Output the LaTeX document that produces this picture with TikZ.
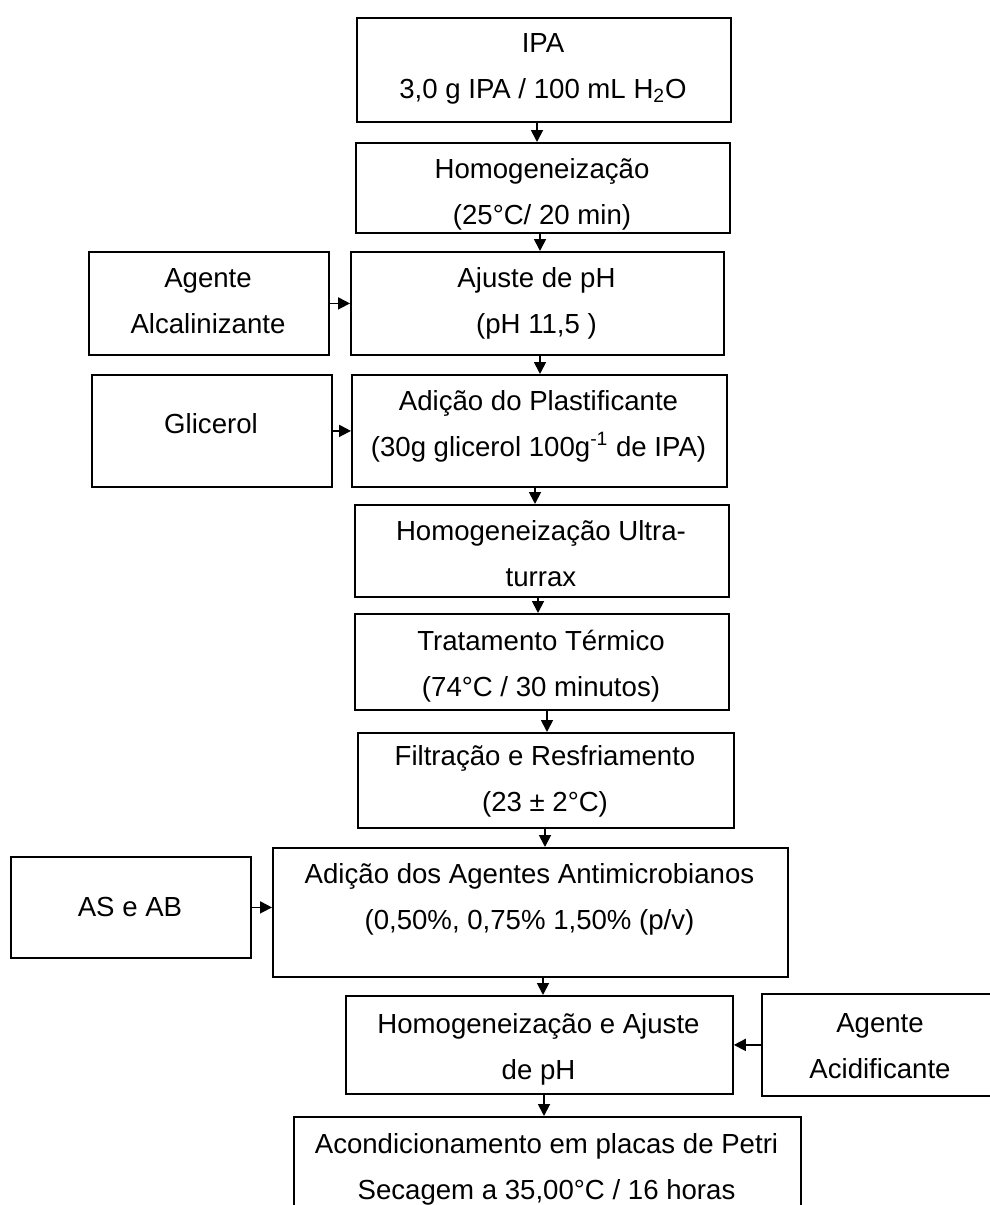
\documentclass[tikz,border=0pt]{standalone}
\usepackage{fontspec}
\setmainfont{Liberation Sans}
\usetikzlibrary{arrows.meta}
\tikzset{
  box/.style={draw=black, line width=0.9pt, inner sep=0pt, anchor=north west},
  txt/.style={inner sep=0pt, align=center, anchor=north, font=\fontsize{13.8}{23}\selectfont},
  arr/.style={line width=0.9pt, -{Triangle[length=6pt,width=6pt]}}
}
\begin{document}
\begin{tikzpicture}[x=0.5pt,y=-0.5pt]
\useasboundingbox (0,0) rectangle (990,1205);
\clip (0,0) rectangle (990,1205);
% boxes (pixel coordinates)
\node[box, minimum width=374*0.5pt, minimum height=104*0.5pt] (b1) at (356,17) {};
\node[box, minimum width=374*0.5pt, minimum height=90*0.5pt] (b2) at (355,142) {};
\node[box, minimum width=373*0.5pt, minimum height=103*0.5pt] (b3) at (350,251) {};
\node[box, minimum width=240*0.5pt, minimum height=103*0.5pt] (a1) at (88,251) {};
\node[box, minimum width=375*0.5pt, minimum height=112*0.5pt] (b4) at (351,374) {};
\node[box, minimum width=240*0.5pt, minimum height=112*0.5pt] (a2) at (91,374) {};
\node[box, minimum width=374*0.5pt, minimum height=92*0.5pt] (b5) at (354,504) {};
\node[box, minimum width=374*0.5pt, minimum height=96*0.5pt] (b6) at (354,613) {};
\node[box, minimum width=376*0.5pt, minimum height=95*0.5pt] (b7) at (357,732) {};
\node[box, minimum width=515*0.5pt, minimum height=129*0.5pt] (b8) at (272,847) {};
\node[box, minimum width=240*0.5pt, minimum height=101*0.5pt] (a3) at (10,856) {};
\node[box, minimum width=387*0.5pt, minimum height=98*0.5pt] (b9) at (345,995) {};
\node[box, minimum width=238*0.5pt, minimum height=102*0.5pt] (a4) at (761,993) {};
\node[box, minimum width=507*0.5pt, minimum height=110*0.5pt] (b10) at (293,1116) {};
% texts
\node[txt] (t1) at (543,19.5) {\strut IPA\\3,0 g IPA / 100 mL H\textsubscript{2}O};
\node[txt] (t2) at (542,145.5) {\strut Homogeneização\\(25°C/ 20 min)};
\node[txt] (t3) at (536.5,254.5) {\strut Ajuste de pH\\(pH 11,5 )};
\node[txt] (ta1) at (208,254.5) {\strut Agente\\Alcalinizante};
\node[txt] (t4) at (538.5,377.5) {\strut Adição do Plastificante\\(30g glicerol 100g\textsuperscript{-1} de IPA)};
\node[txt] (ta2) at (211,400.5) {\strut Glicerol};
\node[txt] (t5) at (541,507.5) {\strut Homogeneização Ultra-\\turrax};
\node[txt] (t6) at (541,617.5) {\strut Tratamento Térmico\\(74°C / 30 minutos)};
\node[txt] (t7) at (545,732.5) {\strut Filtração e Resfriamento\\(23 ± 2°C)};
\node[txt] (t8) at (529.5,850.5) {\strut Adição dos Agentes Antimicrobianos\\(0,50\%, 0,75\% 1,50\% (p/v)};
\node[txt] (ta3) at (130,883.5) {\strut AS e AB};
\node[txt] (t9) at (538.5,1000.5) {\strut Homogeneização e Ajuste\\de pH};
\node[txt] (ta4) at (880,999.5) {\strut Agente\\Acidificante};
\node[txt] (t10) at (546.5,1120.5) {\strut Acondicionamento em placas de Petri\\Secagem a 35,00°C / 16 horas};
% arrow x positions
\coordinate (x1) at (537,0);
\coordinate (x2) at (540,0);
\coordinate (x3) at (540,0);
\coordinate (x4) at (535,0);
\coordinate (x5) at (538,0);
\coordinate (x6) at (547,0);
\coordinate (x7) at (545,0);
\coordinate (x8) at (543,0);
\coordinate (x9) at (544,0);
\draw[arr] (b1.south -| x1) -- (b2.north -| x1);
\draw[arr] (b2.south -| x2) -- (b3.north -| x2);
\draw[arr] (b3.south -| x3) -- (b4.north -| x3);
\draw[arr] (b4.south -| x4) -- (b5.north -| x4);
\draw[arr] (b5.south -| x5) -- (b6.north -| x5);
\draw[arr] (b6.south -| x6) -- (b7.north -| x6);
\draw[arr] (b7.south -| x7) -- (b8.north -| x7);
\draw[arr] (b8.south -| x8) -- (b9.north -| x8);
\draw[arr] (b9.south -| x9) -- (b10.north -| x9);
% side arrows
\draw[arr] (a1.east) -- (a1.east -| b3.west);
\draw[arr] (a2.east) -- (a2.east -| b4.west);
\draw[arr] (a3.east) -- (a3.east -| b8.west);
\draw[arr] (a4.west) -- (a4.west -| b9.east);
\end{tikzpicture}
\end{document}
